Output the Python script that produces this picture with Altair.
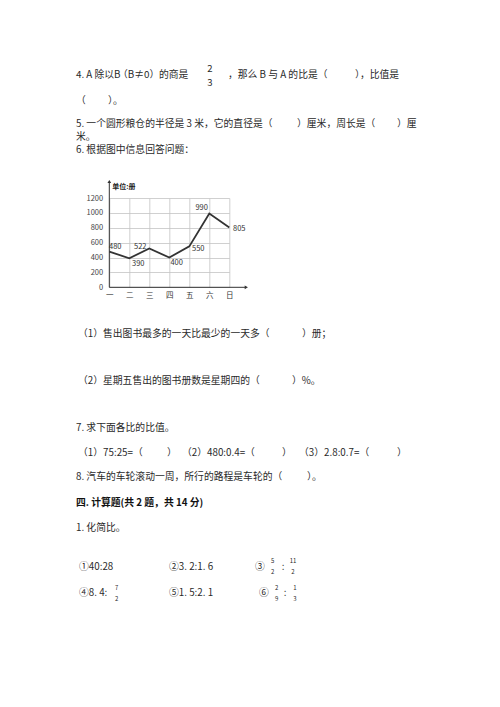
import altair as alt
import pandas as pd

# ---- chart data ----
days = ["一", "二", "三", "四", "五", "六", "日"]
sales = [480, 390, 522, 400, 550, 990, 805]
y_ticks = [0, 200, 400, 600, 800, 1000, 1200]
unit_label = "单位:册"

df = pd.DataFrame({"day": days, "value": sales})

# ---- layout (page pixels) ----
OX, OY = 109.3, 198.0      # plot origin (top-left of grid) on the page
W, H = 120, 89.3
FONT = "Noto Sans CJK SC"
TXT = "#2a2a2a"
FS = 9.8

# label offsets (style) for data labels, per day
label_offsets = {"一": (6, -4.5), "二": (9, 5.7), "三": (-9, -1.2), "四": (7.4, 5.5),
                 "五": (9, 2.6), "六": (-7.6, -5.6), "日": (10, 1.6)}

one = alt.Data(values=[{"a": 1}])


def txt(s, x, y, size=FS, weight="normal", align="left", color=TXT):
    return alt.Chart(one).mark_text(
        text=s, font=FONT, fontSize=size, fontWeight=weight, align=align,
        baseline="middle", color=color
    ).encode(x=alt.value(x - OX), y=alt.value(y - OY))


X_AXIS = alt.Axis(title=None, grid=True, gridColor="#c4c4c4", gridWidth=0.8,
                  domain=False, ticks=False, labelAngle=0, labelFont=FONT,
                  labelFontSize=7.5, labelColor="#333", labelPadding=4.5,
                  labelOverlap=False)
Y_AXIS = alt.Axis(title=None, values=y_ticks, grid=True,
                  gridColor="#c4c4c4", gridWidth=0.8, gridOpacity=1,
                  domain=False, ticks=False,
                  labelFont=FONT, format="d", labelOverlap=False,
                  labelFontSize=7.5, labelColor="#444", labelPadding=6.6)
X_ENC = alt.X("day:N", sort=days, scale=alt.Scale(type="point", padding=0), axis=X_AXIS)
Y_ENC = alt.Y("value:Q", scale=alt.Scale(domain=[0, 1200], nice=False), axis=Y_AXIS)

base = alt.Chart(df)

line = base.mark_line(color="#333333", strokeWidth=1.8).encode(x=X_ENC, y=Y_ENC)

labels = []
for d, (dx, dy) in label_offsets.items():
    labels.append(
        base.transform_filter(alt.datum.day == d).mark_text(
            font=FONT, fontSize=7.5, color="#333", dx=dx, dy=dy, align="center", baseline="middle"
        ).encode(x=X_ENC, y=Y_ENC, text="value:Q")
    )

yaxis = alt.Chart(one).mark_rule(color="#333", strokeWidth=1).encode(
    x=alt.value(0), y=alt.value(-16), y2=alt.value(H))
xaxis = alt.Chart(one).mark_rule(color="#333", strokeWidth=1).encode(
    x=alt.value(0), x2=alt.value(136), y=alt.value(H))
yarrow = alt.Chart(one).mark_point(shape="triangle-up", filled=True, size=14,
                                   color="#333", opacity=1).encode(
    x=alt.value(0), y=alt.value(-16.5))
xarrow = alt.Chart(one).mark_point(shape="triangle-right", filled=True, size=14,
                                   color="#333", opacity=1).encode(
    x=alt.value(137), y=alt.value(H))

unit = txt(unit_label, 112.3, 187.3, size=7, weight="bold", color="#222")

texts = [
    txt("4. A 除以B", 76, 74.5),
    txt("（B≠0）", 118, 74.5),
    txt("的商是", 159, 74.5),
    txt("2", 210, 68.5, size=9.5, align="center"),
    txt("3", 210, 83, size=9.5, align="center"),
    txt("，那么 B 与 A 的比是（", 228, 74.5),
    txt("），比值是", 355, 74.5),
    txt("（", 76, 101),
    txt("）。", 108, 101),
    txt("5. 一个圆形粮仓的半径是 3 米，它的直径是（", 76, 123.5),
    txt("）厘米，周长是（", 297, 123.5),
    txt("）厘", 397, 123.5),
    txt("米。", 76, 136.5),
    txt("6. 根据图中信息回答问题：", 76, 149.5),
    txt("（1）售出图书最多的一天比最少的一天多（", 78, 334),
    txt("）册；", 302, 334),
    txt("（2）星期五售出的图书册数是星期四的（", 78, 381),
    txt("）%。", 292, 381),
    txt("7. 求下面各比的比值。", 76, 427.7),
    txt("（1）75:25=（", 78, 453),
    txt("）", 167, 453),
    txt("（2）480:0.4=（", 182, 453),
    txt("）", 282, 453),
    txt("（3）2.8:0.7=（", 299, 453),
    txt("）", 397, 453),
    txt("8. 汽车的车轮滚动一周，所行的路程是车轮的（", 76, 476.7),
    txt("）。", 307, 476.7),
    txt("四. 计算题(共 2 题，共 14 分)", 76, 503, weight="bold", color="#111"),
    txt("1. 化简比。", 76, 527.7),
    txt("①40:28", 79, 566.7),
    txt("②3. 2:1. 6", 169, 566.7),
    txt("③", 255, 566.7),
    txt("5", 272.7, 560.5, size=6, align="center"),
    txt("2", 272.7, 572, size=6, align="center"),
    txt(":", 283, 566.7, align="center"),
    txt("11", 293, 560.5, size=6, align="center"),
    txt("2", 293, 572, size=6, align="center"),
    txt("④8. 4:", 79, 593),
    txt("7", 116.7, 588, size=6, align="center"),
    txt("2", 116.7, 598.5, size=6, align="center"),
    txt("⑤1. 5:2. 1", 169, 593),
    txt("⑥", 259, 593),
    txt("2", 276.7, 588, size=6, align="center"),
    txt("9", 276.7, 598.5, size=6, align="center"),
    txt(":", 285, 593, align="center"),
    txt("1", 295, 588, size=6, align="center"),
    txt("3", 295, 598.5, size=6, align="center"),
]

chart = alt.layer(line, *labels, yaxis, xaxis, yarrow, xarrow, unit, *texts).properties(
    width=W, height=H,
    autosize=alt.AutoSizeParams(type="none"),
    padding={"left": OX - 8, "top": OY - 8, "right": 484 - (OX - 8) - W,
             "bottom": 680 - (OY - 8) - H},
    background="white",
).configure_view(stroke=None)

chart.save("out.html", embed_options={"renderer": "svg", "actions": False})
